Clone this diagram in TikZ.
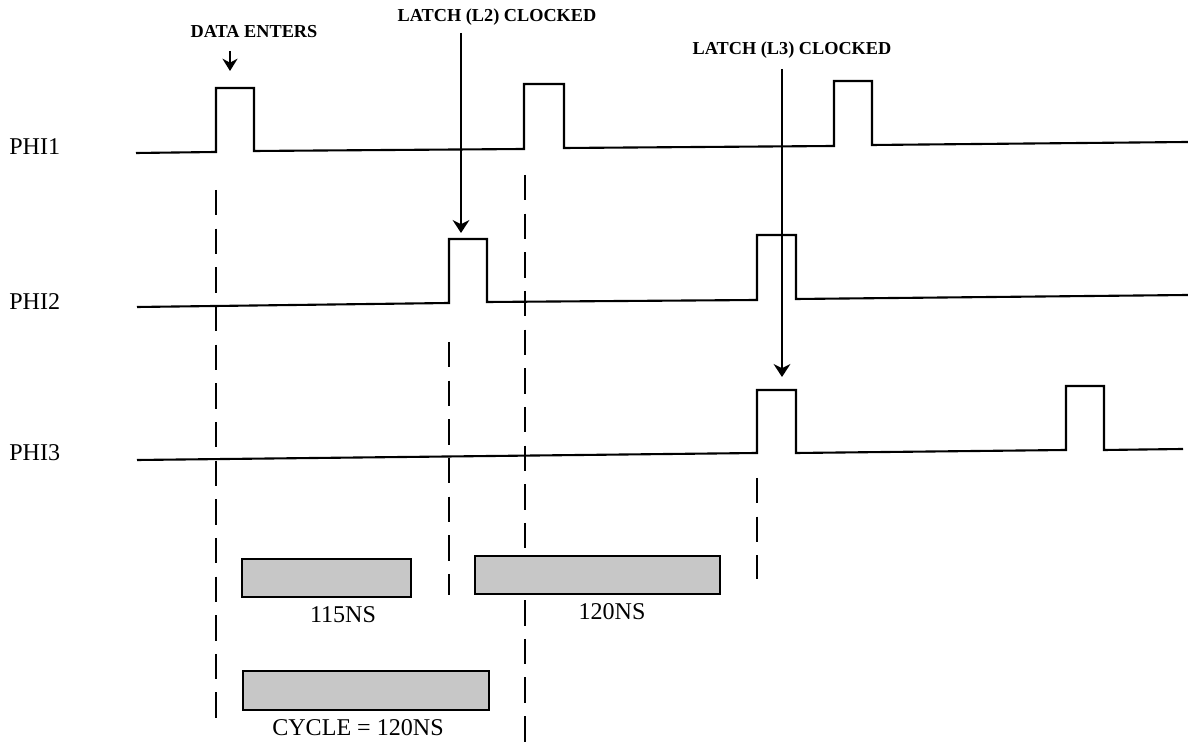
\documentclass[tikz,border=0pt]{standalone}
\usepackage{fontspec}
\setmainfont{Liberation Serif}
\usetikzlibrary{positioning,arrows.meta}

\tikzset{
  wave/.style={line width=1.2pt, line join=miter},
  guide/.style={line width=1pt, dash pattern=on 14.5pt off 7.5pt},
  durbox/.style={draw, line width=1.3pt, fill=black!22},
  siglbl/.style={anchor=west, inner sep=0pt, font=\fontsize{13.7}{16}\selectfont},
  durlbl/.style={inner sep=0pt, font=\fontsize{13.7}{16}\selectfont},
  toplbl/.style={inner sep=0pt, font=\fontsize{10.4}{12}\selectfont\bfseries},
  clkarrow/.style={line width=0.9pt, -{Stealth[length=7.4pt, width=9.6pt]}},
  dinarrow/.style={line width=1.3pt, -{Stealth[length=7pt, width=8.6pt]}},
}

\begin{document}
\begin{tikzpicture}[x=0.02cm, y=-0.02cm]

% --- CANVAS (1 unit = 1 px of the sheet) ---
\useasboundingbox (0,0) rectangle (1188,742);

% --- SIGNAL NAMES ---
\node[siglbl] (phiOne)   at (9,147) {PHI1};
\node[siglbl] (phiTwo)   at (9,302) {PHI2};
\node[siglbl] (phiThree) at (9,453) {PHI3};

% --- GUIDE LINES (x / top / bottom) ---
\foreach \gx/\gt/\gb in {216/190/723, 525/175/742, 449/342/595, 757/478/579} {
  \draw[guide] (\gx,\gt) -- (\gx,\gb);
}

% --- WAVEFORMS ---
% PHI1
\draw[wave] (136,153) -- (216,152) -- (216,88) -- (254,88) -- (254,151)
  -- (524,149) -- (524,84) -- (564,84) -- (564,148)
  -- (834,146) -- (834,81) -- (872,81) -- (872,145) -- (1188,142);
% PHI2
\draw[wave] (137,307) -- (449,303) -- (449,239) -- (487,239) -- (487,302)
  -- (757,300) -- (757,235) -- (796,235) -- (796,299) -- (1188,295);
% PHI3
\draw[wave] (137,460) -- (757,453) -- (757,390) -- (796,390) -- (796,453)
  -- (1066,450) -- (1066,386) -- (1104,386) -- (1104,450) -- (1183,449);

% --- EVENT LABELS + ARROWS ---
\node[toplbl] (dataIn)     at (254,32) {DATA ENTERS};
\node[toplbl] (latchTwo)   at (497,17) {LATCH (L2) CLOCKED};
\node[toplbl] (latchThree) at (792,50) {LATCH (L3) CLOCKED};

\coordinate (dinTop) at (230,51);   \coordinate (dinTip) at (230,71);
\coordinate (ltwoTop) at (461,33);  \coordinate (ltwoTip) at (461,233);
\coordinate (lthrTop) at (782,69);  \coordinate (lthrTip) at (782,377);

\draw[dinarrow] (dinTop) -- (dinTip);
\draw[clkarrow] (ltwoTop) -- (ltwoTip);
\draw[clkarrow] (lthrTop) -- (lthrTip);

% --- DURATION BARS ---
\draw[durbox] (242,559) rectangle (411,597);
\draw[durbox] (475,556) rectangle (720,594);
\draw[durbox] (243,671) rectangle (489,710);

\node[durlbl] (durA) at (343,615) {115NS};
\node[durlbl] (durB) at (612,612) {120NS};
\node[durlbl] (durC) at (358,728) {CYCLE = 120NS};

\end{tikzpicture}
\end{document}
